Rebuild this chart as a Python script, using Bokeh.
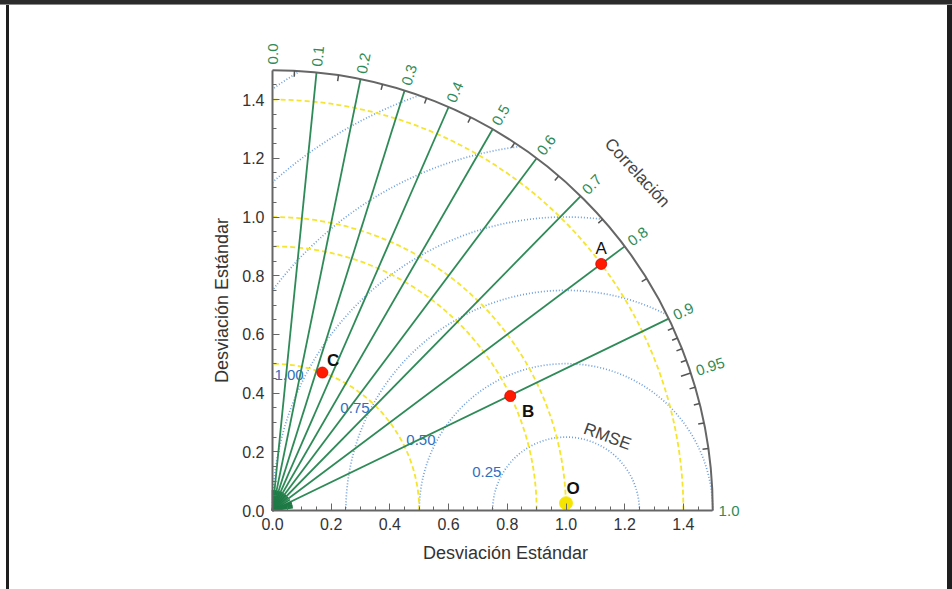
import numpy as np
from bokeh.plotting import figure
from bokeh.models import Range1d, FixedTicker, ColumnDataSource, Label, NumeralTickFormatter
from bokeh.core.properties import value
from bokeh.embed import file_html
from bokeh.resources import INLINE

# ---------------- data ----------------
point_names = ["A", "B", "C", "O"]
point_x = [1.12, 0.81, 0.17, 1.0]
point_y = [0.84, 0.39, 0.47, 0.025]
point_colors = ["#ff1a00", "#ff1a00", "#ff1a00", "#f5e400"]
point_edges = ["#d40000", "#d40000", "#d40000", "#f5e400"]
point_sizes = [11, 11, 11, 13]
point_label_styles = ["normal", "bold", "bold", "bold"]

std_arcs = [0.5, 0.9, 1.0, 1.4]                      # yellow dashed
rmse_arcs = [0.25, 0.5, 0.75, 1.0, 1.25, 1.5, 1.75]  # blue dotted
rmse_labels = ["0.25", "0.50", "0.75", "1.00"]
rmse_label_values = [0.25, 0.5, 0.75, 1.0]

corr_lines = [0.1, 0.2, 0.3, 0.4, 0.5, 0.6, 0.7, 0.8, 0.9]
corr_label_values = [0.0, 0.1, 0.2, 0.3, 0.4, 0.5, 0.6, 0.7, 0.8, 0.9, 0.95, 1.0]
corr_labels = ["0.0", "0.1", "0.2", "0.3", "0.4", "0.5", "0.6", "0.7", "0.8", "0.9", "0.95", "1.0"]
corr_minor = [0.05, 0.15, 0.25, 0.35, 0.45, 0.55, 0.65, 0.75, 0.85,
              0.91, 0.92, 0.93, 0.94, 0.96, 0.97, 0.98, 0.99]
corr_major_tick = [0.95]

std_ticks = [0.0, 0.2, 0.4, 0.6, 0.8, 1.0, 1.2, 1.4]
std_max = 1.5
ref_std = 1.0

# ---------------- layout ----------------
PX = 293.5           # pixels per unit
W, H = 952, 589
OX, OY = 272, 510    # pixel position of the origin

FONT = "Liberation Sans"
GREEN = "#2e8b57"
GRAY = "#666666"
BLUE_LINE = "#6f9fdc"
BLUE_TXT = "#2f6fc0"
YELLOW = "#f5e52e"


def d(px, py):
    """pixel position -> data coordinates (layout helper)"""
    return (px - OX) / PX, (OY - py) / PX


p = figure(width=W, height=H, output_backend="svg", toolbar_location=None,
           x_range=Range1d(-OX / PX, (W - OX) / PX), y_range=Range1d(-(H - OY) / PX, OY / PX),
           min_border=0, min_border_left=0, min_border_right=0, min_border_top=0, min_border_bottom=0)
p.outline_line_color = None
p.grid.visible = False
p.background_fill_alpha = 0
p.border_fill_alpha = 0
p.styles = {"box-shadow": ("inset 0 4px 0 0 #2b2b2b, inset 0 5px 0 0 #8a8a8a, "
                           "inset 6px 0 0 0 #ffffff, inset 9px 0 0 0 #1e1e1e, "
                           "inset -5px 0 0 0 #1e1e1e")}

minor = list(np.round(np.arange(0, std_max + 1e-9, 0.05), 3))
for ax, standoff in ((p.xaxis, 7), (p.yaxis, 8)):
    ax.fixed_location = 0
    ax.bounds = (0, std_max)
    ax.ticker = FixedTicker(ticks=std_ticks, minor_ticks=minor)
    ax.formatter = NumeralTickFormatter(format="0.0")
    ax.axis_line_color = GRAY
    ax.axis_line_width = 2
    ax.major_tick_in = 7
    ax.major_tick_out = 0
    ax.minor_tick_in = 4
    ax.minor_tick_out = 0
    ax.major_tick_line_color = GRAY
    ax.minor_tick_line_color = GRAY
    ax.major_label_text_font = FONT
    ax.major_label_text_font_size = "16px"
    ax.major_label_text_color = "#333333"
    ax.major_label_standoff = standoff

# axis titles
tx, ty = d(505, 552)
p.text(x=[tx], y=[ty], text=["Desviación Estándar"], text_font=value(FONT), text_font_size="18px",
       text_color="#333333", text_align="center", text_baseline="middle")
tx, ty = d(221, 300)
p.text(x=[tx], y=[ty], text=["Desviación Estándar"], angle=np.pi / 2, text_font=value(FONT),
       text_font_size="18px", text_color="#333333", text_align="center", text_baseline="middle")

# blue dotted RMSE arcs centred on reference point, clipped to the quadrant / outer circle
starts, ends = [], []
for r in rmse_arcs:
    if ref_std + r <= std_max:
        s = 0.0
    else:
        xi = (ref_std ** 2 + std_max ** 2 - r ** 2) / (2 * ref_std)
        yi = np.sqrt(max(std_max ** 2 - xi ** 2, 0))
        s = np.arctan2(yi, xi - ref_std)
    if ref_std - r >= 0:
        e = np.pi
    else:
        e = np.arctan2(np.sqrt(r ** 2 - ref_std ** 2), -ref_std)
    starts.append(s)
    ends.append(e)
p.arc(x=[ref_std] * len(rmse_arcs), y=[0] * len(rmse_arcs), radius=rmse_arcs,
      start_angle=starts, end_angle=ends, line_color=BLUE_LINE, line_width=1.7, line_dash="1 2")

# RMSE labels
la = np.deg2rad(154)
p.text(x=[ref_std + (r + 0.05) * np.cos(la) for r in rmse_label_values],
       y=[(r + 0.05) * np.sin(la) for r in rmse_label_values],
       text=rmse_labels, text_color=BLUE_TXT, text_font=value(FONT), text_font_size="15px",
       text_align="center", text_baseline="middle")
ra = np.deg2rad(60.8)
p.text(x=[ref_std + 0.289 * np.cos(ra)], y=[0.289 * np.sin(ra)], text=["RMSE"],
       angle=np.deg2rad(-20), text_color="#444444", text_font=value(FONT), text_font_size="17px",
       text_align="center", text_baseline="middle")

# yellow dashed std-dev arcs
p.arc(x=[0] * len(std_arcs), y=[0] * len(std_arcs), radius=std_arcs, start_angle=0,
      end_angle=np.pi / 2, line_color=YELLOW, line_width=1.8, line_dash="5 3")

# green correlation rays
cl = np.array(corr_lines)
p.segment(x0=0, y0=0, x1=std_max * cl, y1=std_max * np.sqrt(1 - cl ** 2),
          line_color=GREEN, line_width=1.8)
cm = np.array(corr_minor + [0.0])
p.segment(x0=0, y0=0, x1=0.07 * cm, y1=0.07 * np.sqrt(1 - cm ** 2),
          line_color="#1f7a45", line_width=1.6)

# outer arc
p.arc(x=[0], y=[0], radius=std_max, start_angle=0, end_angle=np.pi / 2,
      line_color=GRAY, line_width=2)

# ticks on the correlation arc
for vals, ln in ((corr_minor, 0.02), (corr_major_tick, 0.035)):
    v = np.array(vals)
    s = np.sqrt(1 - v ** 2)
    p.segment(x0=std_max * v, y0=std_max * s, x1=(std_max - ln) * v, y1=(std_max - ln) * s,
              line_color="#555555", line_width=1.5)

# correlation labels
th = np.arccos(np.array(corr_label_values))
p.text(x=1.52 * np.cos(th), y=1.52 * np.sin(th), text=corr_labels, angle=th,
       text_align="left", text_baseline="alphabetic", text_color=GREEN,
       text_font=value(FONT), text_font_size="15px")
ca = np.deg2rad(42.8)
p.text(x=[1.694 * np.cos(ca)], y=[1.694 * np.sin(ca)], text=["Correlación"], angle=ca - np.pi / 2,
       text_align="center", text_baseline="middle", text_color="#444444",
       text_font=value(FONT), text_font_size="17px")

# points
src = ColumnDataSource(dict(x=point_x, y=point_y, c=point_colors, e=point_edges, s=point_sizes,
                            n=point_names, st=point_label_styles,
                            lx=[point_x[0], point_x[1] + 0.061, point_x[2] + 0.037, point_x[3] + 0.024],
                            ly=[point_y[0] + 0.051, point_y[1] - 0.051, point_y[2] + 0.041, point_y[3] + 0.051]))
p.scatter("x", "y", source=src, size="s", fill_color="c", line_color="e", line_width=0.8)
p.text("lx", "ly", text="n", source=src, text_font=value(FONT), text_font_size="17px",
       text_font_style="st", text_color="#111111", text_align="center", text_baseline="middle")

open("out.html", "w").write(file_html(p, INLINE))
